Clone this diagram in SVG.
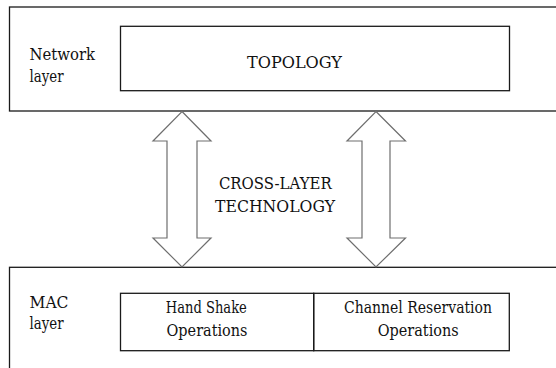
<svg xmlns="http://www.w3.org/2000/svg" width="556" height="368" viewBox="0 0 556 368">
<style>
.box{fill:none;stroke:#1a1a1a;stroke-width:1.3}
.arrow{fill:#fff;stroke:#6e6e6e;stroke-width:1.2;stroke-linejoin:miter}
.t{font-family:'DejaVu Serif','Liberation Serif',serif;font-size:16px;fill:#111}
.c{text-anchor:middle}
</style>
<rect width="556" height="368" fill="#fff"/>
<g id="network-layer">
<rect class="box" x="9.5" y="7" width="560" height="104"/>
<text class="t" x="29.5" y="60" textLength="65.5" lengthAdjust="spacingAndGlyphs">Network</text>
<text class="t" x="29.5" y="81.5" textLength="34" lengthAdjust="spacingAndGlyphs">layer</text>
</g>
<g id="topology">
<rect class="box" x="120.5" y="26.3" width="389" height="64.4"/>
<text class="t c" x="294.5" y="67.5" textLength="95" lengthAdjust="spacingAndGlyphs">TOPOLOGY</text>
</g>
<g id="mac-layer">
<rect class="box" x="9.5" y="267.3" width="560" height="120"/>
<text class="t" x="29.5" y="307.5" textLength="39" lengthAdjust="spacingAndGlyphs">MAC</text>
<text class="t" x="29.5" y="328.5" textLength="34" lengthAdjust="spacingAndGlyphs">layer</text>
</g>
<g id="handshake">
<rect class="box" x="120.5" y="293.3" width="193.2" height="57.4"/>
<text class="t c" x="206.3" y="313.3" textLength="81" lengthAdjust="spacingAndGlyphs">Hand Shake</text>
<text class="t c" x="207" y="336" textLength="81" lengthAdjust="spacingAndGlyphs">Operations</text>
</g>
<g id="channel-reservation">
<rect class="box" x="313.7" y="293.3" width="195.6" height="57.4"/>
<text class="t c" x="418" y="313.3" textLength="148" lengthAdjust="spacingAndGlyphs">Channel Reservation</text>
<text class="t c" x="418.2" y="336" textLength="81" lengthAdjust="spacingAndGlyphs">Operations</text>
</g>
<g id="connectors">
<polygon class="arrow" points="182,111.5 211,141 197,141 197,238 211,238 182,267 153,238 167,238 167,141 153,141"/>
<polygon class="arrow" points="376,111.5 405.5,141 390,141 390,238 405.5,238 376,267 347,238 362,238 362,141 347,141"/>
</g>
<g id="cross-layer-label">
<text class="t c" x="275.3" y="189" textLength="112.7" lengthAdjust="spacingAndGlyphs">CROSS-LAYER</text>
<text class="t c" x="275" y="211.5" textLength="120" lengthAdjust="spacingAndGlyphs">TECHNOLOGY</text>
</g>
</svg>
